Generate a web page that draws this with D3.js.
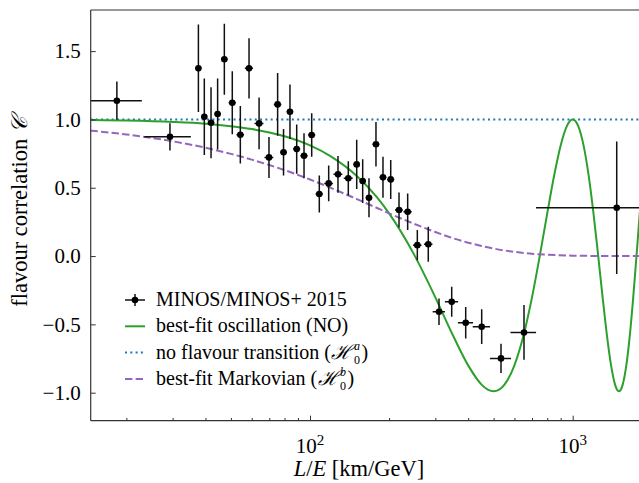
<!DOCTYPE html>
<html><head><meta charset="utf-8">
<script src="https://cdn.jsdelivr.net/npm/d3@7"></script>
<style>
body{margin:0;background:#fff}
svg{display:block}
</style>
</head><body>
<svg id="c" width="639" height="483"></svg>
<script>
// ---- data ----
const dataLE    = [18.4, 29.3, 37.6, 39.6, 42.0, 44.5, 47.2, 50.6, 54.3, 58.6, 64.0, 69.8, 75.3, 79.3, 83.9, 89.0, 94.9, 101.5, 108.5, 117.8, 127.8, 139.9, 150.6, 158.7, 167.7, 178.3, 189.6, 202.9, 218.2, 235.4, 256.2, 282.0, 309.8, 346.3, 391.5, 450.4, 533.5, 652.6, 1471];
const dataC     = [1.137, 0.873, 1.374, 1.02, 0.976, 1.04, 1.44, 1.122, 0.888, 1.374, 0.971, 0.722, 1.11, 0.76, 1.056, 0.783, 0.734, 0.886, 0.454, 0.532, 0.598, 0.569, 0.671, 0.549, 0.427, 0.818, 0.576, 0.561, 0.337, 0.324, 0.08, 0.086, -0.408, -0.335, -0.488, -0.517, -0.749, -0.559, 0.354];
const dataCerr  = [0.14, 0.10, 0.32, 0.28, 0.26, 0.26, 0.26, 0.23, 0.21, 0.22, 0.19, 0.15, 0.23, 0.17, 0.20, 0.18, 0.165, 0.16, 0.135, 0.13, 0.135, 0.125, 0.18, 0.16, 0.143, 0.163, 0.15, 0.143, 0.128, 0.134, 0.11, 0.128, 0.097, 0.11, 0.116, 0.127, 0.107, 0.20, 0.485];
const dataLEerr = [4.5, 5.9, 1.0, 1.0, 1.2, 1.2, 1.3, 1.6, 1.8, 2.1, 2.5, 2.7, 2.5, 2.2, 2.4, 2.8, 3.0, 3.2, 3.5, 4.5, 5.0, 5.5, 4.5, 4.2, 4.8, 5.3, 5.6, 6.5, 7.5, 8.5, 9.5, 10.5, 16.7, 20, 26, 34, 49, 73, 746];

const oscLE = [14.6, 20, 30, 40, 50, 60, 70, 80, 100, 120, 150, 180, 200, 250, 300, 350, 400, 450, 475, 500, 525, 550, 600, 650, 700, 750, 800, 850, 900, 950, 975, 1000, 1025, 1050, 1100, 1150, 1200, 1250, 1300, 1350, 1400, 1450, 1475, 1500, 1525, 1550, 1600, 1650, 1700, 1750, 1800, 1850];
const oscC  = [0.996, 0.992, 0.982, 0.969, 0.951, 0.930, 0.905, 0.877, 0.810, 0.730, 0.590, 0.429, 0.312, 0.005, -0.302, -0.580, -0.800, -0.941, -0.978, -0.990, -0.978, -0.941, -0.800, -0.580, -0.302, 0.005, 0.312, 0.590, 0.810, 0.951, 0.988, 1.0, 0.988, 0.951, 0.810, 0.590, 0.312, 0.005, -0.302, -0.580, -0.800, -0.941, -0.978, -0.990, -0.978, -0.941, -0.800, -0.580, -0.302, 0.005, 0.312, 0.590];

const markLE = [14.6, 20, 30, 40, 50, 60, 70, 80, 100, 120, 150, 180, 200, 250, 300, 350, 400, 450, 500, 600, 700, 800, 1000, 1200, 1500, 2000];
const markC  = [0.918, 0.890, 0.840, 0.793, 0.748, 0.706, 0.666, 0.629, 0.560, 0.499, 0.419, 0.352, 0.313, 0.235, 0.176, 0.131, 0.098, 0.074, 0.055, 0.031, 0.017, 0.010, 0.003, 0.001, 0.0002, 0.0];

const noTransLE = [14.6, 2000];
const noTransC  = [1.0, 1.0];

const yTicks = [-1.0, -0.5, 0.0, 0.5, 1.0, 1.5];
const xTicks = [100, 1000];
const xTickExp = ["2", "3"];
const xMinor = [20, 30, 40, 50, 60, 70, 80, 90, 200, 300, 400, 500, 600, 700, 800, 900];

const legendLabels = ["MINOS/MINOS+ 2015", "best-fit oscillation (NO)", "no flavour transition (", "best-fit Markovian ("];

// ---- layout ----
const FONT = "Liberation Serif";
const FS_LEG = 20, FS_TICK = 21, FS_LAB = 22.5;
const L = 90.7, T = 10, B = 420.7, R = 651.5;
const svg = d3.select("#c");
const x = d3.scaleLog().domain([Math.pow(10, 1.1652), Math.pow(10, 3.3)]).range([L, R]);
const y = d3.scaleLinear().domain([-1.205, 1.801]).range([B, T]);

function txt(sel, xx, yy, size) {
  return sel.append("text").attr("x", xx).attr("y", yy)
    .attr("font-family", FONT).attr("font-size", size).attr("fill", "#000");
}

svg.append("defs").append("clipPath").attr("id", "clip")
  .append("rect").attr("x", L).attr("y", T).attr("width", R - L).attr("height", B - T);

const plot = svg.append("g").attr("clip-path", "url(#clip)");

const straight = d3.line().x(d => x(d[0])).y(d => y(d[1]));
const smooth = d3.line().x(d => x(d[0])).y(d => y(d[1])).curve(d3.curveMonotoneX);

// no flavour transition
plot.append("path").datum(noTransLE.map((v, i) => [v, noTransC[i]]))
  .attr("d", straight).attr("fill", "none").attr("stroke", "#1f77b4")
  .attr("stroke-width", 2).attr("stroke-dasharray", "2,3.3");

// best-fit oscillation
plot.append("path").datum(oscLE.map((v, i) => [v, oscC[i]]))
  .attr("d", smooth).attr("fill", "none").attr("stroke", "#2ca02c")
  .attr("stroke-width", 2);

// Markovian
plot.append("path").datum(markLE.map((v, i) => [v, markC[i]]))
  .attr("d", smooth).attr("fill", "none").attr("stroke", "#9467bd")
  .attr("stroke-width", 2).attr("stroke-dasharray", "7.4,3.2");

// data with error bars
const pts = dataLE.map((v, i) => ({le: v, c: dataC[i], ce: dataCerr[i], le_e: dataLEerr[i]}));
const eg = plot.append("g");
eg.selectAll("line.h").data(pts).join("line").attr("class", "h")
  .attr("x1", d => x(Math.max(d.le - d.le_e, 1))).attr("x2", d => x(d.le + d.le_e))
  .attr("y1", d => y(d.c)).attr("y2", d => y(d.c))
  .attr("stroke", "#111").attr("stroke-width", 1.5);
eg.selectAll("line.v").data(pts).join("line").attr("class", "v")
  .attr("x1", d => x(d.le)).attr("x2", d => x(d.le))
  .attr("y1", d => y(d.c - d.ce)).attr("y2", d => y(d.c + d.ce))
  .attr("stroke", "#111").attr("stroke-width", 1.5);
eg.selectAll("circle").data(pts).join("circle")
  .attr("cx", d => x(d.le)).attr("cy", d => y(d.c)).attr("r", 3.3).attr("fill", "#000");

// ---- axes ----
const axCol = "#333";
const yAx = svg.append("g").attr("transform", `translate(${L},0)`)
  .call(d3.axisLeft(y).tickValues(yTicks).tickSize(-5).tickSizeOuter(0).tickPadding(10)
    .tickFormat(d => d3.format(".1f")(d).replace("-", "\u2212")));
yAx.select(".domain").remove();
yAx.attr("font-family", FONT).attr("font-size", FS_TICK);
yAx.selectAll(".tick line").attr("stroke", axCol);
yAx.selectAll(".tick text").attr("font-size", FS_TICK).attr("font-family", FONT).attr("fill", "#000");

const xAx = svg.append("g").attr("transform", `translate(0,${B})`)
  .call(d3.axisBottom(x).tickValues(xTicks).tickSize(-5).tickSizeOuter(0).tickFormat(""));
xAx.select(".domain").remove();
xAx.selectAll(".tick line").attr("stroke", axCol);
svg.append("g").attr("transform", `translate(0,${B})`)
  .call(d3.axisBottom(x).tickValues(xMinor).tickSize(-2.7).tickSizeOuter(0).tickFormat(""))
  .call(g => g.select(".domain").remove())
  .selectAll(".tick line").attr("stroke", axCol);

xTicks.forEach((v, i) => {
  const t = txt(svg, x(v), 453, FS_TICK).attr("text-anchor", "middle");
  t.append("tspan").text("10");
  t.append("tspan").attr("dy", -8).attr("font-size", 15).text(xTickExp[i]);
});

// spines
svg.append("line").attr("x1", L).attr("x2", L).attr("y1", T).attr("y2", B).attr("stroke", axCol).attr("stroke-width", 1.2);
svg.append("line").attr("x1", L).attr("x2", R).attr("y1", B).attr("y2", B).attr("stroke", axCol).attr("stroke-width", 1.2);
svg.append("line").attr("x1", L).attr("x2", R).attr("y1", T).attr("y2", T).attr("stroke", axCol).attr("stroke-width", 1.2);

// axis labels
const xl = txt(svg, 359, 476, FS_LAB).attr("text-anchor", "middle");
xl.append("tspan").attr("font-style", "italic").text("L");
xl.append("tspan").text("/");
xl.append("tspan").attr("font-style", "italic").text("E");
xl.append("tspan").text(" [km/GeV]");

const yl = txt(svg, 0, 0, FS_LAB).attr("transform", "translate(27,212) rotate(-90)").attr("text-anchor", "middle");
yl.append("tspan").text("flavour correlation ");
yl.append("tspan").attr("font-style", "italic").text("\uD835\uDC9E");

// ---- legend ----
const lg = svg.append("g");
const rowY = [306, 332.3, 358.6, 385];
const hx0 = 125, hx1 = 145, tx = 156;
lg.append("line").attr("x1", hx0).attr("x2", hx1).attr("y1", rowY[0] - 6).attr("y2", rowY[0] - 6).attr("stroke", "#111").attr("stroke-width", 1.5);
lg.append("line").attr("x1", (hx0 + hx1) / 2).attr("x2", (hx0 + hx1) / 2).attr("y1", rowY[0] - 12).attr("y2", rowY[0]).attr("stroke", "#111").attr("stroke-width", 1.5);
lg.append("circle").attr("cx", (hx0 + hx1) / 2).attr("cy", rowY[0] - 6).attr("r", 3.3).attr("fill", "#000");
lg.append("line").attr("x1", hx0).attr("x2", hx1).attr("y1", rowY[1] - 6).attr("y2", rowY[1] - 6).attr("stroke", "#2ca02c").attr("stroke-width", 2);
lg.append("line").attr("x1", hx0).attr("x2", hx1).attr("y1", rowY[2] - 6).attr("y2", rowY[2] - 6).attr("stroke", "#1f77b4").attr("stroke-width", 2).attr("stroke-dasharray", "2,3.3");
lg.append("line").attr("x1", hx0).attr("x2", hx1).attr("y1", rowY[3] - 6).attr("y2", rowY[3] - 6).attr("stroke", "#9467bd").attr("stroke-width", 2).attr("stroke-dasharray", "7.4,3.2");

txt(lg, tx, rowY[0], FS_LEG).text(legendLabels[0]);
txt(lg, tx, rowY[1], FS_LEG).text(legendLabels[1]);
function hLabel(yy, prefix, sup) {
  const t = txt(lg, tx, yy, FS_LEG).text(prefix);
  const hx = tx + t.node().getComputedTextLength() + 0.5;
  const h = txt(lg, hx, yy, FS_LEG).attr("font-style", "italic").text("\u210B");
  const x2 = hx + h.node().getComputedTextLength() + 1.5;
  const s1 = txt(lg, x2, yy - 9, 12).attr("font-style", "italic").text(sup);
  const s2 = txt(lg, x2, yy + 5, 12).text("0");
  const w = Math.max(s1.node().getComputedTextLength(), s2.node().getComputedTextLength());
  txt(lg, x2 + w + 1.5, yy, FS_LEG).text(")");
}
hLabel(rowY[2], legendLabels[2], "a");
hLabel(rowY[3], legendLabels[3], "b");
</script>
</body></html>
